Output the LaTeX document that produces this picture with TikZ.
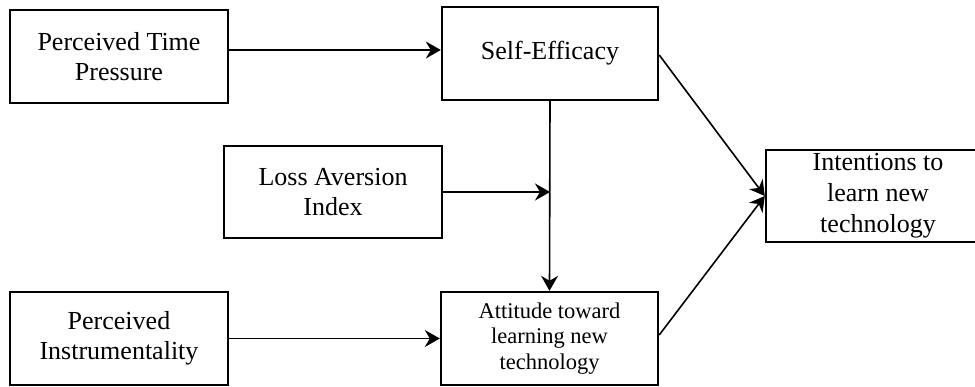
\documentclass[tikz,border=0pt]{standalone}
\usepackage{fontspec}
\setmainfont{Liberation Serif}
\usetikzlibrary{arrows.meta}
\begin{document}
\begin{tikzpicture}[x=1pt,y=-1pt,
  box/.style={draw,line width=2.4pt,rectangle,inner sep=0pt,align=center,
    font=\fontsize{26}{30.5}\selectfont},
  conn/.style={line width=1.6pt,-{Stealth[length=15pt,width=17pt,inset=5pt]}}]
\useasboundingbox (0,0) rectangle (975,386);
\node[box,minimum width=218pt,minimum height=93pt] (ptp) at (119,56.5) {Perceived Time\\Pressure};
\node[box,minimum width=216pt,minimum height=93pt] (se) at (550,53.5) {Self-Efficacy};
\node[box,minimum width=218pt,minimum height=92pt] (loss) at (333,192) {Loss Aversion\\Index};
\node[box,minimum width=224pt,minimum height=92pt,font=\fontsize{26}{31}\selectfont] (int) at (878,196) {Intentions to\\learn new\\technology};
\node[box,minimum width=218pt,minimum height=93pt] (pi) at (119,338.5) {Perceived\\Instrumentality};
\node[box,minimum width=217pt,minimum height=93pt,font=\fontsize{22.5}{25.5}\selectfont] (att) at (549.5,338.5) {Attitude toward\\learning new\\technology};
\draw[conn] ([yshift=6.5pt]ptp.east) -- ([yshift=6.5pt]ptp.east -| se.west);
\draw[conn] (se.south) -- (att.north);
\draw[conn] (loss.east) -- (loss.east -| se.south);
\draw[conn] (pi.east) -- (pi.east -| att.west);
\draw[conn] ([yshift=-1.5pt]se.east) -- (int.west);
\draw[conn] ([yshift=3.5pt]att.east) -- (int.west);
\end{tikzpicture}
\end{document}
